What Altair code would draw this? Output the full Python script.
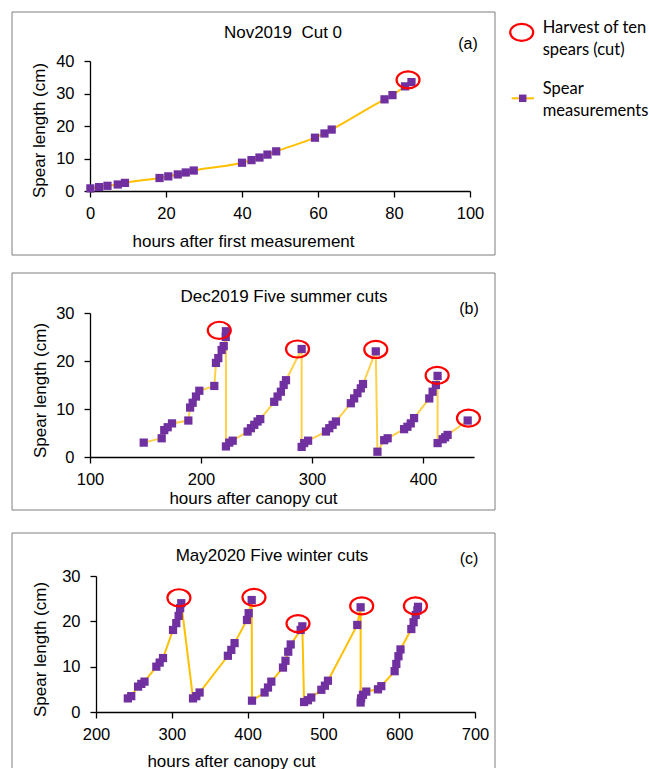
import altair as alt
import pandas as pd

# ---------------- data ----------------
# (a) Nov2019 Cut 0
a_hours = [0.1, 2.4, 4.6, 7.3, 9.2, 18.3, 20.6, 23.1, 25.2, 27.3, 40.0, 42.5, 44.6, 46.7, 49.0,
           59.2, 61.7, 63.6, 77.5, 79.6, 82.9, 84.6]
a_length = [0.8, 1.2, 1.6, 2.0, 2.5, 4.0, 4.5, 5.1, 5.7, 6.3, 8.7, 9.5, 10.3, 11.2, 12.2,
            16.4, 17.7, 18.9, 28.2, 29.5, 32.2, 33.5]
a_cut_hours = [83.7]
a_cut_length = [34.2]

# (b) Dec2019 Five summer cuts
b_hours = [148.4, 164.6, 166.9, 170.0, 173.9, 188.6, 190.2, 192.5, 195.5, 198.5, 212.0, 213.5, 215.6, 218.6, 220.5, 222.3, 222.5,
           222.5, 225.5, 228.6,
           242.0, 245.0, 248.0, 251.0, 253.4, 266.0, 269.0, 272.0, 274.5, 276.6, 290.7,
           290.7, 293.0, 296.5,
           312.6, 315.6, 318.6, 321.6, 335.0, 338.0, 341.0, 344.0, 346.0, 357.5,
           359.0, 365.1, 368.2,
           383.0, 386.0, 389.0, 392.0, 405.7, 408.7, 411.7, 413.2,
           413.2, 417.7, 420.0, 422.2, 440.3]
b_length = [3.0, 3.9, 5.6, 6.2, 7.0, 7.6, 10.3, 11.3, 12.6, 13.8, 14.8, 19.6, 20.6, 22.3, 23.1, 25.0, 26.2,
            2.2, 3.0, 3.4,
            5.3, 6.0, 6.7, 7.4, 7.9, 11.5, 12.6, 13.6, 15.0, 16.0, 22.5,
            2.1, 2.9, 3.4,
            5.3, 6.0, 6.7, 7.4, 11.2, 12.2, 13.3, 14.3, 15.2, 22.0,
            1.1, 3.5, 3.9,
            5.8, 6.3, 7.0, 8.1, 12.2, 13.6, 15.0, 16.9,
            2.9, 3.7, 4.1, 4.6, 7.6]
b_cut_hours = [216.5, 287.0, 357.5, 412.8, 441.0]
b_cut_length = [26.4, 22.5, 22.4, 17.0, 8.1]

# (c) May2020 Five winter cuts
c_hours = [242.0, 246.5, 255.5, 259.8, 264.0, 279.6, 284.0, 288.4, 301.6, 305.9, 309.0, 311.0, 312.5,
           328.0, 332.3, 336.7, 374.0, 378.5, 382.8, 399.2, 401.4, 405.4,
           405.8, 422.4, 426.9, 431.3, 446.7, 450.0, 453.6, 456.9, 470.0, 472.2,
           474.5, 479.6, 484.0, 497.3, 502.0, 506.0, 544.7, 549.1,
           549.1, 549.8, 552.2, 556.6, 572.0, 576.4, 594.0, 596.2, 599.0, 601.7, 616.0, 619.0, 621.8, 624.0, 624.8]
c_length = [3.0, 3.5, 5.6, 6.2, 6.7, 10.0, 10.9, 11.9, 18.1, 19.6, 21.2, 22.9, 24.0,
            3.0, 3.5, 4.3, 12.4, 13.7, 15.2, 20.3, 21.8, 24.7,
            2.5, 4.3, 5.4, 6.7, 9.8, 11.3, 13.3, 14.9, 18.1, 18.9,
            2.2, 2.6, 3.2, 4.9, 5.8, 6.9, 19.2, 23.1,
            2.1, 3.0, 3.8, 4.5, 5.0, 5.7, 9.0, 10.6, 12.3, 13.8, 18.3, 19.8, 21.4, 22.4, 23.2]
c_cut_hours = [309.4, 408.4, 466.5, 550.5, 621.4]
c_cut_length = [25.2, 25.3, 19.5, 23.4, 23.4]

legend_labels = [["Harvest of ten", "spears (cut)"], ["Spear", "measurements"]]

# ---------------- styles ----------------
PURPLE = "#7030A0"
GOLD = "#FFC000"
RED = "#FF0000"
BOX = "#7f7f7f"
AXFONT = "Liberation Sans"
ELLIPSE = "M-1,0 A1,0.74 0 1,1 1,0 A1,0.74 0 1,1 -1,0 Z"
ONE = pd.DataFrame({"k": [0]})


def txt(s, x, y, align="center", font=AXFONT, size=17, baseline="alphabetic"):
    return alt.Chart(ONE).mark_text(text=s, align=align, baseline=baseline, font=font,
                                    fontSize=size, color="#000").encode(
        x=alt.value(x), y=alt.value(y))


def panel(hours, length, cut_h, cut_l, xdom, xticks, yticks, w, h, xtitle, xt_x, xt_y,
          yt_x, yt_y, line_color, interp, xrange=None, yoffset=0):
    df = pd.DataFrame({"hours": hours, "length": length, "i": list(range(len(hours)))})
    cuts = pd.DataFrame({"hours": cut_h, "length": cut_l})
    xscale = alt.Scale(domain=xdom, nice=False, zero=False)
    if xrange is not None:
        xscale = alt.Scale(domain=xdom, nice=False, zero=False, range=xrange)
    x = alt.X("hours:Q", scale=xscale,
              axis=alt.Axis(values=xticks, title=xtitle, titleX=xt_x, titleY=xt_y,
                            titleAlign="center", titleBaseline="alphabetic", titleAnchor="middle"))
    y = alt.Y("length:Q", scale=alt.Scale(domain=[0, yticks[-1]], nice=False),
              axis=alt.Axis(values=yticks, title="Spear length (cm)", titleX=yt_x, titleY=yt_y,
                            titleAngle=270, titleAlign="center", titleBaseline="alphabetic",
                            offset=yoffset))
    line = alt.Chart(df).mark_line(color=line_color, strokeWidth=2, interpolate=interp).encode(
        x=x, y=y, order=alt.Order("i:Q"))
    pts = alt.Chart(df).mark_square(size=68, color=PURPLE, opacity=1).encode(x=x, y=y)
    circ = alt.Chart(cuts).mark_point(shape=ELLIPSE, size=529, filled=False, color=RED,
                                      strokeWidth=2.2, opacity=1).encode(x=x, y=y)
    return [line, pts, circ]


# ---------------- panel (a) ----------------
wa, ha = 380, 130
la = panel(a_hours, a_length, a_cut_hours, a_cut_length, [0, 100], [0, 20, 40, 60, 80, 100],
           [0, 10, 20, 30, 40], wa, ha, "hours after first measurement", 153, 55,
           -46, 69, GOLD, "monotone")
box_a = alt.Chart(ONE).mark_rect(fill="white", fillOpacity=0, stroke=BOX, strokeWidth=1).encode(
    x=alt.value(-78), x2=alt.value(405), y=alt.value(-49), y2=alt.value(194))
leg_circ = alt.Chart(ONE).mark_point(shape=ELLIPSE, size=529, filled=False, color=RED,
                                     strokeWidth=2.2, opacity=1).encode(
    x=alt.value(431.7), y=alt.value(-28.7))
leg_line = alt.Chart(ONE).mark_rule(color=GOLD, strokeWidth=2).encode(
    x=alt.value(421.7), x2=alt.value(444), y=alt.value(37.3))
leg_sq = alt.Chart(ONE).mark_square(size=56, color=PURPLE, opacity=1).encode(
    x=alt.value(432.7), y=alt.value(37.3))
leg_txt = [
    txt(legend_labels[0][0], 452.7, -27.7, "left", "Lato", 16.5),
    txt(legend_labels[0][1], 452.7, -6.5, "left", "Lato", 16.5),
    txt(legend_labels[1][0], 452.7, 33, "left", "Lato", 16.5),
    txt(legend_labels[1][1], 452.7, 54.5, "left", "Lato", 16.5),
]
pa = alt.layer(box_a, *la, txt("Nov2019\u00a0 Cut 0", 193, -22.7), txt("(a)", 378, -12, size=16),
               leg_circ, leg_line, leg_sq, *leg_txt).properties(width=wa, height=ha)

# ---------------- panel (b) ----------------
wb, hb = 384, 144
lb = panel(b_hours, b_length, b_cut_hours, b_cut_length, [100, 446], [100, 200, 300, 400],
           [0, 10, 20, 30], wb, hb, "hours after canopy cut", 163, 46,
           -45, 77, "#FFD04A", "linear")
box_b = alt.Chart(ONE).mark_rect(fill="white", fillOpacity=0, stroke=BOX, strokeWidth=1).encode(
    x=alt.value(-78), x2=alt.value(405), y=alt.value(-40), y2=alt.value(197))
spacer_b = alt.Chart(ONE).mark_rule(opacity=0).encode(
    x=alt.value(0), y=alt.value(197), y2=alt.value(203))
pb = alt.layer(box_b, spacer_b, *lb, txt("Dec2019 Five summer cuts", 194, -10.7),
               txt("(b)", 379, 1.3, size=16)).properties(width=wb, height=hb)

# ---------------- panel (c) ----------------
# plot origin shared with (a)/(b); the axes of (c) start 6 px further right
wc, hc = 385, 136
lc = panel(c_hours, c_length, c_cut_hours, c_cut_length, [200, 700], [200, 300, 400, 500, 600, 700],
           [0, 10, 20, 30], wc, hc, "hours after canopy cut", 141, 54.7,
           -51, 73, GOLD, "linear", xrange=[6, 385], yoffset=-6)
box_c = [
    alt.Chart(ONE).mark_rule(color=BOX, strokeWidth=1).encode(
        x=alt.value(-78), y=alt.value(-43), y2=alt.value(192)),
    alt.Chart(ONE).mark_rule(color=BOX, strokeWidth=1).encode(
        x=alt.value(405), y=alt.value(-43), y2=alt.value(192)),
    alt.Chart(ONE).mark_rule(color=BOX, strokeWidth=1).encode(
        x=alt.value(-78), x2=alt.value(405), y=alt.value(-43)),
]
pc = alt.layer(*box_c, *lc, txt("May2020 Five winter cuts", 182, -15.3),
               txt("(c)", 379, -11.7, size=16)).properties(width=wc, height=hc)

chart = (
    alt.vconcat(pa, pb, pc, spacing=16)
    .properties(padding={"left": 11, "top": 11, "right": 0, "bottom": 0}, background="white")
    .configure_view(stroke=None)
    .configure_axis(domainColor="#000", domainWidth=1.3, tickColor="#000", tickWidth=1.3,
                    tickSize=6, labelFont=AXFONT, labelFontSize=16.5, labelColor="#000",
                    labelFlush=False, labelOverlap=False,
                    titleFont=AXFONT, titleFontSize=17, titleFontWeight="normal",
                    titleColor="#000", grid=False)
    .configure_axisX(labelPadding=8)
    .configure_axisY(labelPadding=10)
)

chart.save("out.html", embed_options={"renderer": "svg", "actions": False})
